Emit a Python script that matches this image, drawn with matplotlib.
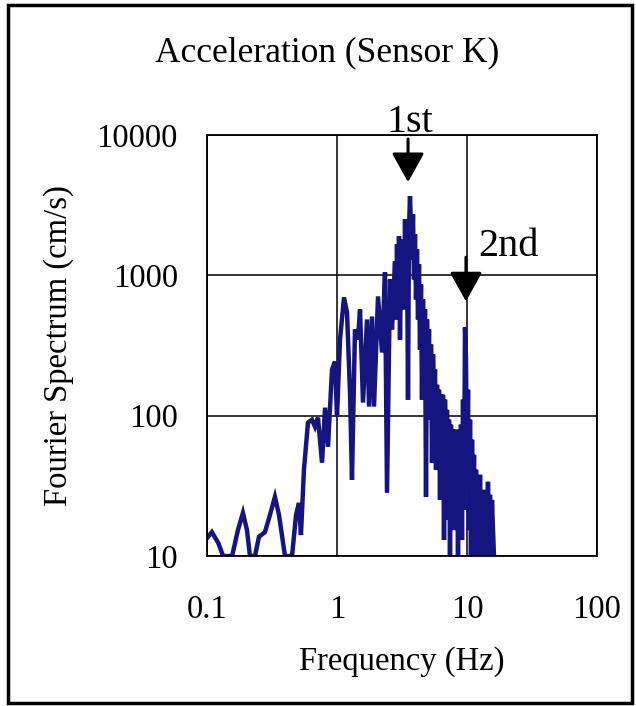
import matplotlib
matplotlib.use("Agg")
import matplotlib.pyplot as plt
from matplotlib.patches import Rectangle

# ---- data ----
freq_hz = [0.100, 0.109, 0.122, 0.133, 0.156, 0.173, 0.189, 0.203, 0.214, 0.234,
           0.251, 0.279, 0.305, 0.333, 0.358, 0.398, 0.451, 0.484, 0.510, 0.528,
           0.557, 0.598, 0.642, 0.677, 0.714, 0.767, 0.809, 0.853, 0.915, 0.965,
           1.000, 1.055, 1.132, 1.194, 1.259, 1.304, 1.375, 1.450, 1.503, 1.585,
           1.701, 1.763, 1.859, 1.926, 2.068, 2.219, 2.340, 2.425, 2.557, 2.649,
           2.794, 2.843, 2.894, 2.946, 2.999, 3.052, 3.107, 3.162, 3.219, 3.277,
           3.335, 3.395, 3.455, 3.517, 3.579, 3.643, 3.709, 3.775, 3.842, 3.911,
           3.981, 4.052, 4.125, 4.199, 4.273, 4.350, 4.428, 4.506, 4.587, 4.669,
           4.753, 4.838, 4.924, 5.012, 5.102, 5.193, 5.286, 5.381, 5.477, 5.575,
           5.675, 5.776, 5.878, 5.984, 6.091, 6.200, 6.310, 6.423, 6.537, 6.654,
           6.773, 6.894, 7.017, 7.143, 7.270, 7.400, 7.532, 7.667, 7.804, 7.943,
           8.085, 8.230, 8.377, 8.527, 8.679, 8.834, 8.992, 9.152, 9.315, 9.482,
           9.651, 9.824, 10.00, 10.18, 10.36, 10.55, 10.73, 10.93, 11.12, 11.32,
           11.52, 11.73, 11.94, 12.15, 12.37, 12.59, 12.82, 13.04, 13.28, 13.51,
           13.75, 14.00, 14.25, 14.50, 14.77, 15.03, 15.30, 15.57, 15.85, 16.13]
spectrum = [13.4, 14.8, 12.4, 10, 10, 15.3, 20.3, 15.3, 10, 10,
            13.7, 14.8, 19.6, 26.4, 19.6, 10, 10, 19.6, 23.9, 14.1,
            41.2, 89.1, 93.6, 83.4, 96.8, 46.2, 114, 60.0, 213, 243,
            98.4, 349, 697, 544, 146, 34.9, 412, 349, 572, 124,
            485, 116, 509, 116, 708, 282, 1051, 28.2, 936, 412,
            1259, 485, 1665, 674, 1900, 349, 1301, 794, 1808, 572,
            2512, 936, 1808, 130, 2131, 3667, 2131, 1301, 2728, 936,
            1963, 674, 1534, 485, 1198, 296, 862, 130, 674, 251,
            572, 26.4, 485, 181, 412, 93.6, 321, 46.2, 273, 130,
            213, 41.2, 166, 79.4, 153, 25.1, 141, 57.2, 141, 13.0,
            130, 41.2, 110, 18.1, 93.6, 10, 86.2, 34.9, 79.4, 15.3,
            79.4, 25.1, 76.9, 10, 79.4, 34.9, 86.2, 13.0, 130, 21.3,
            425, 251, 34.9, 153, 15.3, 93.6, 10, 67.4, 18.1, 52.6,
            10, 41.2, 15.3, 34.9, 10, 37.9, 13.0, 29.6, 10, 25.1,
            12.0, 29.6, 10, 33.8, 13.0, 27.3, 10, 25.1, 15.3, 10]

x_ticks = [0.1, 1, 10, 100]
x_tick_labels = ["0.1", "1", "10", "100"]
y_ticks = [10, 100, 1000, 10000]
y_tick_labels = ["10", "100", "1000", "10000"]

peak_labels = ["1st", "2nd"]
peak_tip_x = [3.52, 9.82]
peak_tip_y = [4613, 652]
peak_tail_y = [9360, 1345]
peak_text_x = [3.64, 21.0]
peak_text_y = [12190, 1611]

plt.rcParams['font.family'] = ['Liberation Serif', 'DejaVu Serif']

fig = plt.figure(figsize=(6.36, 7.06), dpi=100)
ax = fig.add_axes([207/636, 1-556/706, (597-207)/636, (556-135)/706])

ax.plot(freq_hz, spectrum, color='#15157f', lw=3.2, solid_joinstyle='miter')

ax.set_xscale('log')
ax.set_yscale('log')
ax.set_xlim(0.1, 100)
ax.set_ylim(10, 10000)
ax.set_xticks(x_ticks)
ax.set_xticklabels(x_tick_labels)
ax.set_yticks(y_ticks)
ax.set_yticklabels(y_tick_labels)
ax.minorticks_off()
ax.tick_params(axis='both', length=0, labelsize=23.5)
ax.tick_params(axis='x', pad=28)
ax.tick_params(axis='y', pad=21)
ax.grid(True, which='major', color='black', lw=1.1)
for s in ax.spines.values():
    s.set_color('black')
    s.set_linewidth(1.3)

ax.set_xlabel("Frequency (Hz)", fontsize=23.5, labelpad=15)
ax.set_ylabel("Fourier Spectrum (cm/s)", fontsize=23.5, labelpad=16)
fig.text(327/636, 1-53/706, "Acceleration (Sensor K)", fontsize=25.5,
         ha='center', va='center')

for lab, tx, ty, ly, px, py in zip(peak_labels, peak_tip_x, peak_tip_y,
                                     peak_tail_y, peak_text_x, peak_text_y):
    ax.annotate('', xy=(tx, ty), xytext=(tx, ly),
                arrowprops=dict(arrowstyle='-|>,head_length=18,head_width=10',
                                mutation_scale=1, lw=2.2, color='black',
                                shrinkA=0, shrinkB=0),
                annotation_clip=False)
    ax.text(px, py, lab, fontsize=29, ha='center', va='center', clip_on=False)

fig.patches.append(Rectangle((8/636, 3/706), (632-8)/636, (701-3)/706,
                             transform=fig.transFigure, fill=False,
                             edgecolor='black', lw=2.5))

fig.savefig("out.png", dpi=100)
